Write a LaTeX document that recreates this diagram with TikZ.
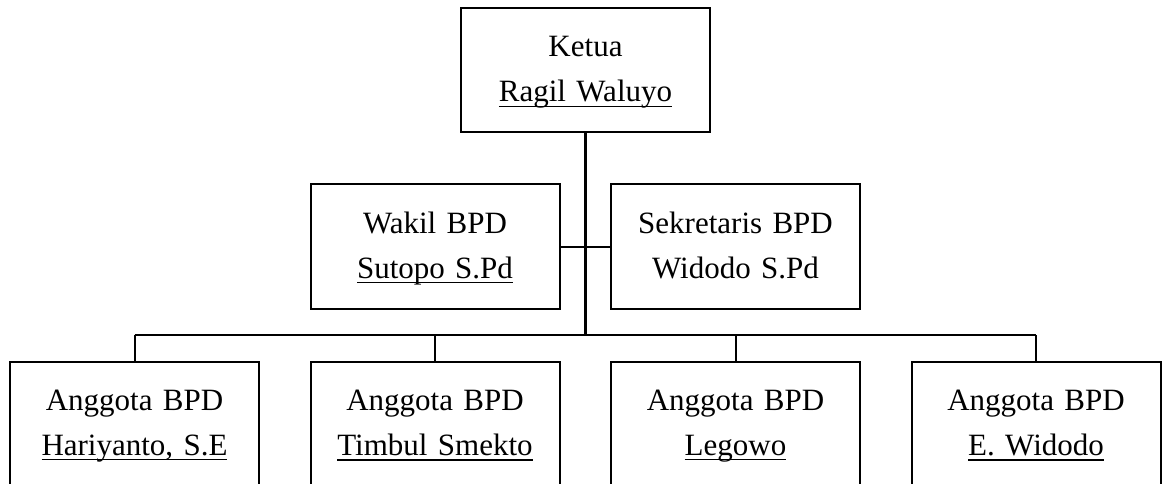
\documentclass[tikz,border=0pt]{standalone}
\usepackage{fontspec}
\setmainfont{Liberation Serif}
\newcommand\uln[1]{\setbox0\hbox{#1}\rlap{\rule[-5.2pt]{\wd0}{1.3pt}}\box0}
\newcommand\stt{\rule[-6pt]{0pt}{31pt}}
\tikzset{
  orgbox/.style={draw=black, line width=2pt, rectangle, inner sep=0pt,
    minimum width=249pt, minimum height=124pt, text width=249pt, align=center,
    font=\fontsize{31}{45}\selectfont},
  trunk/.style={line width=3pt},
  branch/.style={line width=2pt}
}
\begin{document}
\begin{tikzpicture}[x=1pt, y=-1pt]
\useasboundingbox (0,0) rectangle (1165,484);
\clip (0,0) rectangle (1165,484);
\node[orgbox] (ketua) at (585.5,70) {\stt Ketua\\\stt\uln{Ragil Waluyo}};
\node[orgbox] (wakil) at (435,246.5) {\stt Wakil BPD\\\stt\uln{Sutopo S.Pd}};
\node[orgbox] (sekr) at (735.5,246.5) {\stt Sekretaris BPD\\\stt Widodo S.Pd};
\node[orgbox] (a1) at (134.5,423.5) {\stt Anggota BPD\\\stt\uln{Hariyanto, S.E}};
\node[orgbox] (a2) at (435,423.5) {\stt Anggota BPD\\\stt\uln{Timbul Smekto}};
\node[orgbox] (a3) at (735.5,423.5) {\stt Anggota BPD\\\stt\uln{Legowo}};
\node[orgbox] (a4) at (1036,423.5) {\stt Anggota BPD\\\stt\uln{E. Widodo}};
\coordinate (bar) at (585.5,335);
\draw[branch] (wakil.east) -- (sekr.west);
\draw[branch] (a1.north |- bar) -- (a4.north |- bar);
\foreach \n in {a1,a2,a3,a4} \draw[branch] (\n.north) -- (\n.north |- bar);
\draw[trunk] (ketua.south) -- (ketua.south |- bar);
\end{tikzpicture}
\end{document}
